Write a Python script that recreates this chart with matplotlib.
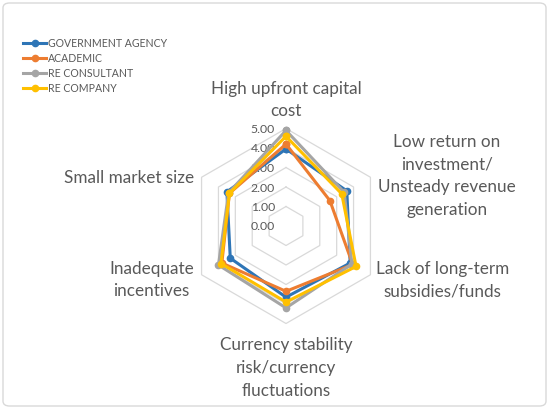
import numpy as np
import matplotlib
matplotlib.use("Agg")
import matplotlib.pyplot as plt
import matplotlib.transforms as mtrans
from matplotlib.patches import FancyBboxPatch

categories = ["High upfront capital\ncost",
              "Low return on\ninvestment/\nUnsteady revenue\ngeneration",
              "Lack of long-term\nsubsidies/funds",
              "Currency stability\nrisk/currency\nfluctuations",
              "Inadequate\nincentives",
              "Small market size"]
series_names = ["GOVERNMENT AGENCY", "ACADEMIC", "RE CONSULTANT", "RE COMPANY"]
gov = [3.95, 3.60, 3.80, 3.65, 3.30, 3.50]
academic = [4.20, 2.60, 3.95, 3.35, 3.80, 3.35]
consultant = [4.90, 3.45, 3.90, 4.20, 4.00, 3.40]
company = [4.60, 3.30, 4.15, 3.90, 3.85, 3.35]
ticks = [0, 1, 2, 3, 4, 5]
tick_labels = ["0.00", "1.00", "2.00", "3.00", "4.00", "5.00"]

colors = ["#2E75B6", "#ED7D31", "#A5A5A5", "#FFC000"]
text_color = "#595959"
font = ["Lato", "DejaVu Sans"]
plt.rcParams["font.family"] = font

W, H = 550, 410
fig = plt.figure(figsize=(W / 100, H / 100), dpi=100)
fig.patch.set_facecolor("white")

# border
border = FancyBboxPatch((3 / W, 3 / H), (W - 7) / W, (H - 7) / H,
                        boxstyle="round,pad=0,rounding_size=0.012",
                        transform=fig.transFigure, facecolor="none",
                        edgecolor="#D9D9D9", linewidth=1.0)
fig.patches.append(border)

cx, cy, R = 286, 227, 97.5
ax = fig.add_axes([(cx - R) / W, (H - cy - R) / H, 2 * R / W, 2 * R / H],
                  projection="polar")
ax.set_theta_offset(np.pi / 2)
ax.set_theta_direction(-1)
ax.set_ylim(0, 5)
ax.grid(False)
ax.spines["polar"].set_visible(False)
ax.set_xticks([])
ax.set_yticks([])
ax.patch.set_alpha(0)

n = len(categories)
theta = np.linspace(0, 2 * np.pi, n, endpoint=False)
theta_c = np.append(theta, theta[0])

# hexagonal gridlines
for t in ticks[1:]:
    ax.plot(theta_c, [t] * (n + 1), color="#D9D9D9", lw=0.9, zorder=1,
            clip_on=False)

# tick labels
offset = mtrans.ScaledTranslation(-11 / 100, 0, fig.dpi_scale_trans)
for t, lab in zip(ticks, tick_labels):
    ax.text(0, t, lab, transform=ax.transData + offset, ha="right",
            va="center", fontsize=8.8, color=text_color)

data = [gov, academic, consultant, company]
for vals, c, name in zip(data, colors, series_names):
    v = np.append(vals, vals[0])
    ax.plot(theta_c, v, color=c, lw=2.2, marker="o", markersize=4.5,
            label=name, zorder=3, clip_on=False)

# category labels (positions in figure pixels)
label_specs = [
    (286, 100, "center"),
    (447, 176, "center"),
    (376, 280, "left"),
    (286, 368, "center"),
    (194, 280, "right"),
    (194, 178, "right"),
]
for cat, (x, y, ha) in zip(categories, label_specs):
    fig.text(x / W, 1 - y / H, cat, ha=ha, va="center", fontsize=12.3,
             color=text_color, linespacing=1.52, multialignment="center")

handles, labels = ax.get_legend_handles_labels()
leg = fig.legend(handles, labels, loc="upper left",
                 bbox_to_anchor=(19 / W, 1 - 34 / H), frameon=False,
                 fontsize=7.6, labelcolor=text_color, handlelength=2.2,
                 handletextpad=0.1, labelspacing=0.38, borderaxespad=0)

fig.savefig("out.png", dpi=100, facecolor="white")
